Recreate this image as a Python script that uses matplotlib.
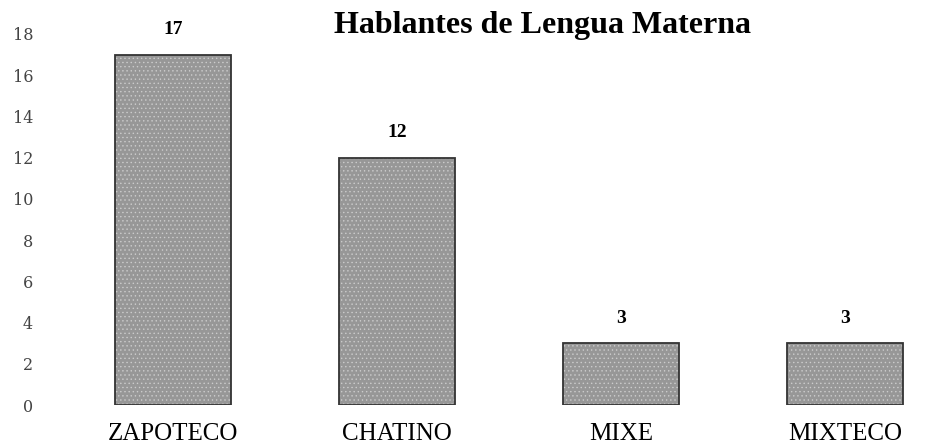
import matplotlib
matplotlib.use('Agg')
import matplotlib.pyplot as plt

plt.rcParams['font.family'] = ['Liberation Serif', 'DejaVu Serif']

# Datos
lenguas = ['ZAPOTECO', 'CHATINO', 'MIXE', 'MIXTECO']
hablantes = [17, 12, 3, 3]
yticks = list(range(0, 19, 2))

W, H = 938, 448
fig = plt.figure(figsize=(W / 100, H / 100), dpi=100)
# ejes colocados en pixeles: y=0 en 405px, y=18 en 34px
ax = fig.add_axes([40 / W, 43 / H, (W - 40) / W, 371 / H])

x = range(len(lenguas))
bars = ax.bar(x, hablantes, width=0.52, color='#979797',
              edgecolor='#333333', linewidth=1.3, hatch='....')
for b in bars:
    b.set_hatch_linewidth(0.5)
    b._hatch_color = (0.8, 0.8, 0.8, 1)  # puntos claros sobre el gris

for xi, v in zip(x, hablantes):
    ax.annotate(str(v), (xi, v), xytext=(0, 18), textcoords='offset points',
                ha='center', va='center', fontsize=14, fontweight='bold')

ax.set_xlim(-0.594, 3.415)
ax.set_ylim(0, 18)
ax.set_yticks(yticks)
ax.set_xticks(list(x))
ax.set_xticklabels(lenguas, fontsize=18)
ax.tick_params(axis='y', length=0, pad=5)
for lbl in ax.get_yticklabels():
    lbl.set_fontfamily('DejaVu Serif')
    lbl.set_fontsize(11.5)
    lbl.set_color('#444444')
ax.tick_params(axis='x', length=0, pad=13)
for s in ax.spines.values():
    s.set_visible(False)

fig.text(543 / W, 1 - 25 / H, 'Hablantes de Lengua Materna', ha='center',
         va='center', fontsize=23, fontweight='bold')

fig.savefig('out.png', dpi=100)
